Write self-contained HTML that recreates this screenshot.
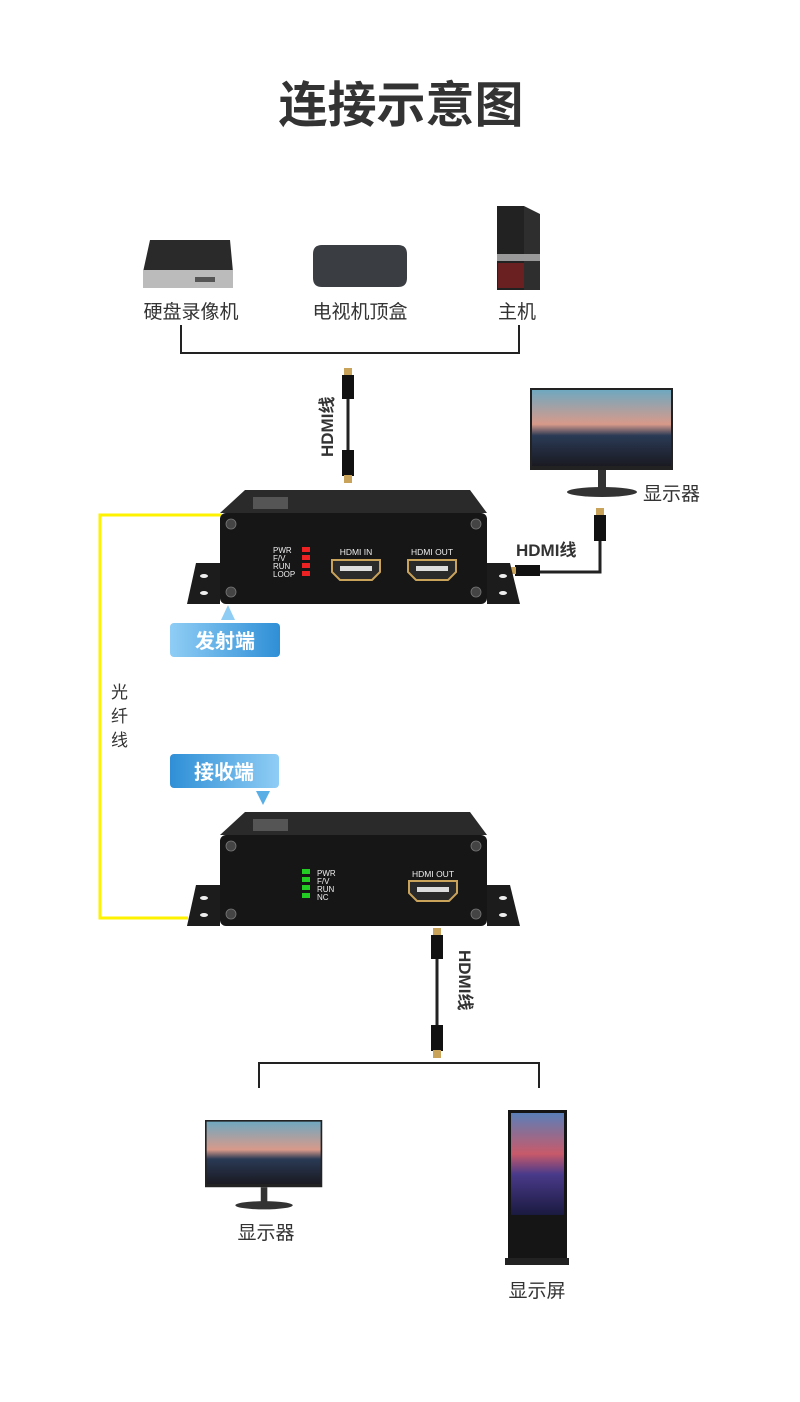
<!DOCTYPE html>
<html><head><meta charset="utf-8"><style>
html,body{margin:0;padding:0;background:#fff;}
body{width:800px;height:1397px;position:relative;overflow:hidden;font-family:"Liberation Sans","Noto Sans CJK SC",sans-serif;}
svg text{font-family:"Liberation Sans","Noto Sans CJK SC",sans-serif;}
</style></head><body>
<svg width="800" height="1397" viewBox="0 0 800 1397" xmlns="http://www.w3.org/2000/svg">
<defs>
<linearGradient id="lbl" x1="0" y1="0" x2="1" y2="0"><stop offset="0" stop-color="#8fcdf5"/><stop offset="1" stop-color="#2f8fd6"/></linearGradient>
<linearGradient id="lbl2" x1="0" y1="0" x2="1" y2="0"><stop offset="0" stop-color="#2f8fd6"/><stop offset="1" stop-color="#8fcdf5"/></linearGradient>
<linearGradient id="scr" x1="0" y1="0" x2="0" y2="1"><stop offset="0" stop-color="#6fa8c0"/><stop offset="0.45" stop-color="#d89a8a"/><stop offset="0.6" stop-color="#2a3a55"/><stop offset="1" stop-color="#1a1a22"/></linearGradient>
<linearGradient id="kio" x1="0" y1="0" x2="0" y2="1"><stop offset="0" stop-color="#5a7fb8"/><stop offset="0.4" stop-color="#c85a6a"/><stop offset="0.6" stop-color="#4a3a8a"/><stop offset="1" stop-color="#1a1a40"/></linearGradient>
<g id="box">
 <polygon points="245,490 470,490 487,513 220,513" fill="#2a2a2a"/>
 <polygon points="196,563 220,563 220,604 187,604" fill="#1c1c1c"/>
 <polygon points="487,563 510,563 520,604 487,604" fill="#1c1c1c"/>
 <rect x="220" y="513" width="267" height="91" rx="6" fill="#161616"/>
 <rect x="253" y="497" width="35" height="12" fill="#555"/>
 <g fill="#444" stroke="#777" stroke-width="0.8">
 <circle cx="231" cy="524" r="5"/><circle cx="476" cy="524" r="5"/><circle cx="231" cy="592" r="5"/><circle cx="476" cy="592" r="5"/></g>
 <g fill="#eee"><ellipse cx="204" cy="576" rx="4" ry="2"/><ellipse cx="204" cy="593" rx="4" ry="2"/><ellipse cx="503" cy="576" rx="4" ry="2"/><ellipse cx="503" cy="593" rx="4" ry="2"/></g>
</g>
<g id="hdmi"><path d="M-24,-10 H24 V2 L16,10 H-16 L-24,2 Z" fill="#2a2a2a" stroke="#c9a35a" stroke-width="2"/><rect x="-16" y="-4" width="32" height="5" fill="#ddd"/></g>
<g id="mon">
 <rect x="0" y="0" width="143" height="82" fill="#222"/>
 <rect x="2" y="2" width="139" height="76" fill="url(#scr)"/>
 <rect x="68" y="82" width="8" height="20" fill="#333"/>
 <ellipse cx="72" cy="104" rx="35" ry="5" fill="#333"/>
</g>
</defs>

<text x="401" y="122" text-anchor="middle" font-size="49" font-weight="bold" fill="#333">连接示意图</text>

<polygon points="150,240 230,240 233,272 143,272" fill="#2a2a2a"/>
<rect x="143" y="270" width="90" height="18" fill="#bbb"/>
<rect x="195" y="277" width="20" height="5" fill="#555"/>
<path d="M322,245 h76 q9,0 9,9 v24 q0,9 -9,9 h-76 q-9,0 -9,-9 v-24 q0,-9 9,-9z" fill="#3a3d42"/>
<rect x="497" y="206" width="27" height="84" fill="#222"/>
<polygon points="524,206 540,214 540,290 524,290" fill="#2e2e2e"/>
<rect x="497" y="254" width="43" height="7" fill="#999"/>
<rect x="498" y="263" width="26" height="25" fill="#6a2020"/>
<g font-size="19" fill="#333" text-anchor="middle">
<text x="191" y="318">硬盘录像机</text><text x="360" y="318">电视机顶盒</text><text x="517" y="318">主机</text></g>
<path d="M181,325 V353 H519 V325" fill="none" stroke="#222" stroke-width="2"/>

<line x1="348" y1="385" x2="348" y2="455" stroke="#222" stroke-width="3"/>
<rect x="344" y="368" width="8" height="8" fill="#c9a35a"/><rect x="342" y="375" width="12" height="24" fill="#111"/>
<rect x="342" y="450" width="12" height="26" fill="#111"/><rect x="344" y="475" width="8" height="8" fill="#c9a35a"/>
<text transform="translate(333,457) rotate(-90)" font-size="17" font-weight="bold" fill="#333">HDMI线</text>

<use href="#mon" transform="translate(530,388)"/>
<text x="643" y="500" font-size="19" fill="#333">显示器</text>
<path d="M600,530 V572 H540" fill="none" stroke="#222" stroke-width="3"/>
<rect x="596" y="508" width="8" height="8" fill="#c9a35a"/><rect x="594" y="515" width="12" height="26" fill="#111"/>
<rect x="515" y="565" width="25" height="11" fill="#111"/><rect x="508" y="567" width="8" height="7" fill="#c9a35a"/>
<text x="516" y="556" font-size="17" font-weight="bold" fill="#333">HDMI线</text>

<path d="M222,515 H100 V918 H188" fill="none" stroke="#fff200" stroke-width="3"/>
<g font-size="17" fill="#333"><text x="111" y="698">光</text><text x="111" y="722">纤</text><text x="111" y="746">线</text></g>

<use href="#box"/>
<g font-size="8" fill="#eee"><text x="273" y="553">PWR</text><text x="273" y="561">F/V</text><text x="273" y="569">RUN</text><text x="273" y="577">LOOP</text></g>
<g fill="#e22"><rect x="302" y="547" width="8" height="5"/><rect x="302" y="555" width="8" height="5"/><rect x="302" y="563" width="8" height="5"/><rect x="302" y="571" width="8" height="5"/></g>
<g font-size="8.5" fill="#eee" text-anchor="middle"><text x="356" y="555">HDMI IN</text><text x="432" y="555">HDMI OUT</text></g>
<use href="#hdmi" transform="translate(356,570)"/><use href="#hdmi" transform="translate(432,570)"/>
<polygon points="228,605 221,620 235,620" fill="#8fcdf5"/>
<rect x="170" y="623" width="110" height="34" rx="4" fill="url(#lbl)"/>
<text x="225" y="648" text-anchor="middle" font-size="20" font-weight="bold" fill="#fff">发射端</text>

<rect x="170" y="754" width="109" height="34" rx="4" fill="url(#lbl2)"/>
<text x="224" y="779" text-anchor="middle" font-size="20" font-weight="bold" fill="#fff">接收端</text>
<polygon points="256,791 270,791 263,805" fill="#5aaee6"/>
<use href="#box" transform="translate(0,322)"/>
<g fill="#2c2"><rect x="302" y="869" width="8" height="5"/><rect x="302" y="877" width="8" height="5"/><rect x="302" y="885" width="8" height="5"/><rect x="302" y="893" width="8" height="5"/></g>
<g font-size="8" fill="#eee"><text x="317" y="876">PWR</text><text x="317" y="884">F/V</text><text x="317" y="892">RUN</text><text x="317" y="900">NC</text></g>
<text x="433" y="877" text-anchor="middle" font-size="8.5" fill="#eee">HDMI OUT</text>
<use href="#hdmi" transform="translate(433,891)"/>

<line x1="437" y1="945" x2="437" y2="1035" stroke="#222" stroke-width="3"/>
<rect x="433" y="928" width="8" height="8" fill="#c9a35a"/><rect x="431" y="935" width="12" height="24" fill="#111"/>
<rect x="431" y="1025" width="12" height="26" fill="#111"/><rect x="433" y="1050" width="8" height="8" fill="#c9a35a"/>
<text transform="translate(459,950) rotate(90)" font-size="17" font-weight="bold" fill="#333">HDMI线</text>
<path d="M259,1088 V1063 H539 V1088" fill="none" stroke="#222" stroke-width="2"/>

<g transform="translate(205,1120) scale(0.82)"><use href="#mon"/></g>
<text x="266" y="1239" text-anchor="middle" font-size="19" fill="#333">显示器</text>
<rect x="508" y="1110" width="59" height="150" fill="#151515"/>
<rect x="511" y="1113" width="53" height="102" fill="url(#kio)"/>
<rect x="505" y="1258" width="64" height="7" fill="#222"/>
<text x="537" y="1297" text-anchor="middle" font-size="19" fill="#333">显示屏</text>
</svg>
</body></html>
